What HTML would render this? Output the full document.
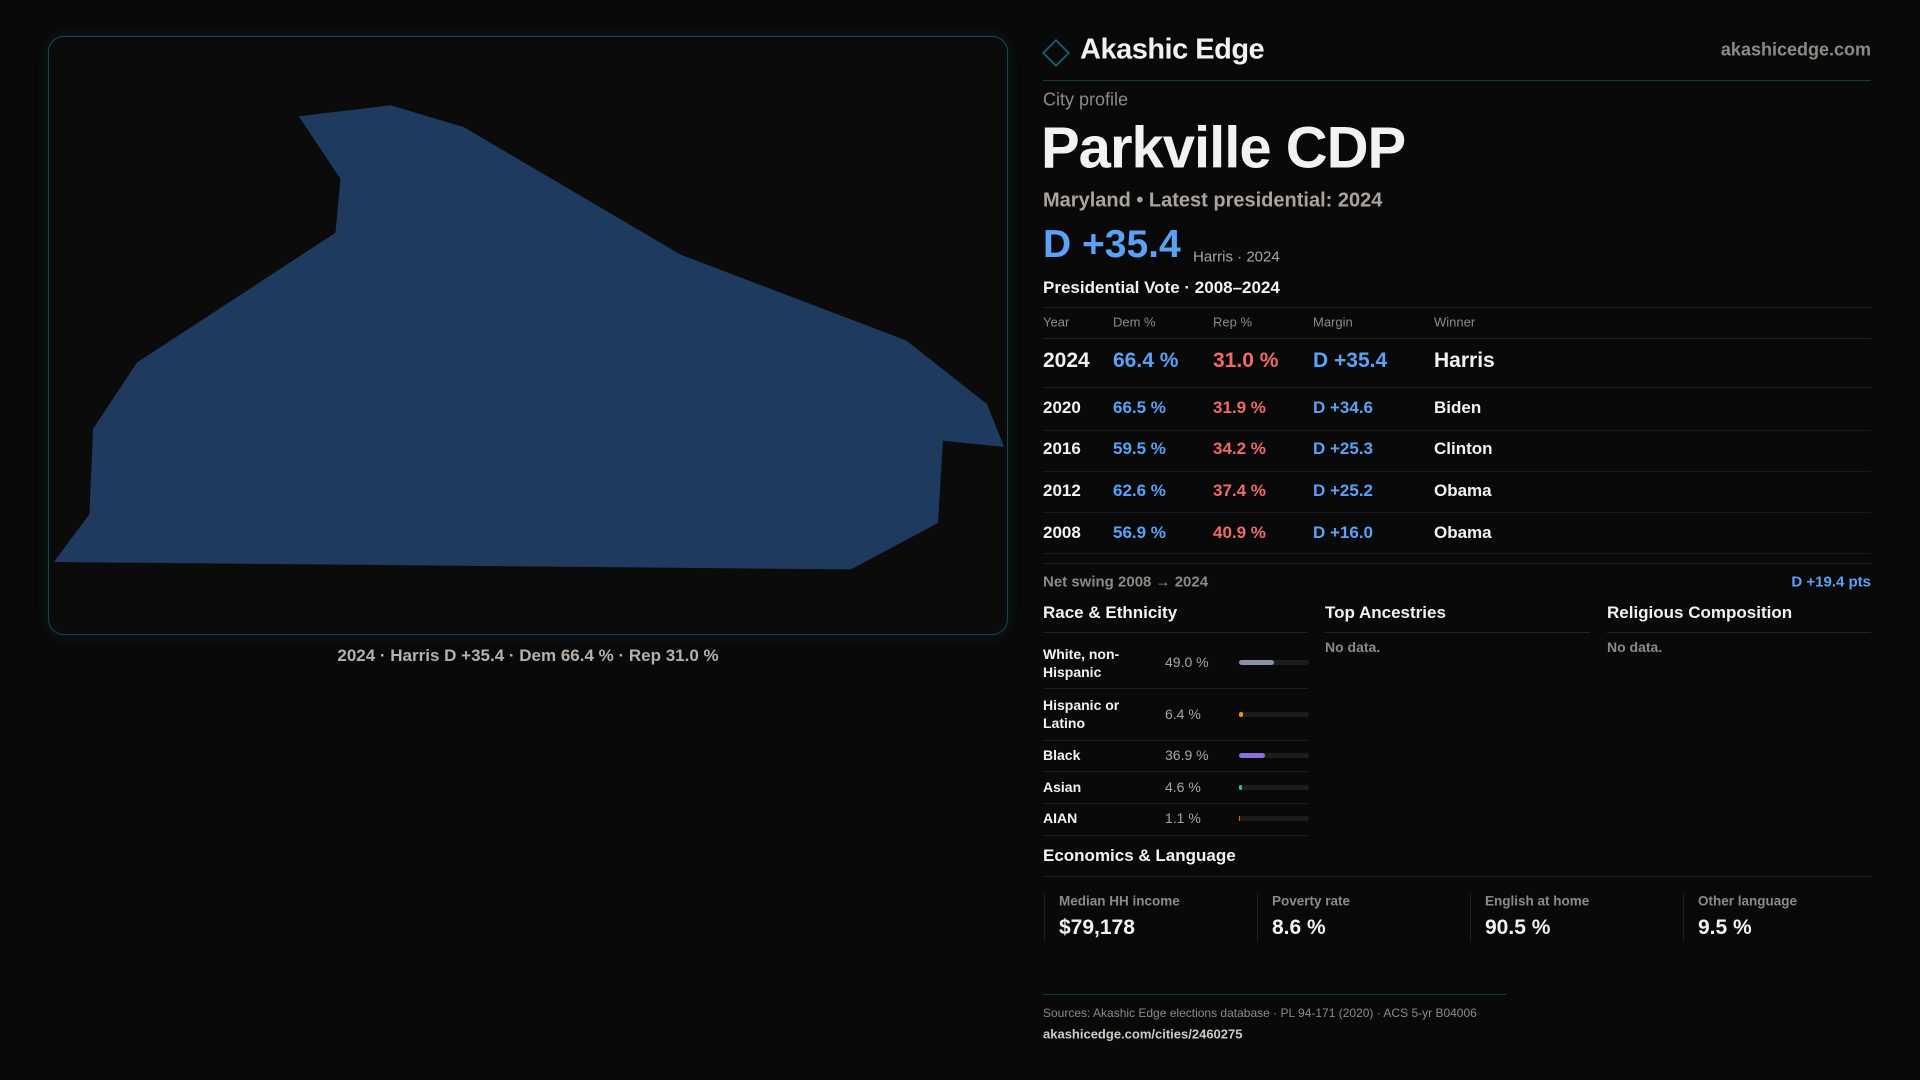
<!DOCTYPE html>
<html><head><meta charset="utf-8"><style>
*{margin:0;padding:0;box-sizing:border-box}
body{width:1920px;height:1080px;background:#0a0909;font-family:"Liberation Sans",sans-serif;color:#f2f2f2;position:relative;overflow:hidden}
.a{position:absolute;white-space:nowrap}
.g{color:#8e8984}
.b{color:#5aa2f5}
.r{color:#f06a6a}
.ln{position:absolute;height:1px;background:#222}
.vc{transform:translateY(-50%)}
</style></head><body>
<div class="a" style="left:48px;top:36px;width:960px;height:599px;border:1px solid #0f4a52;border-radius:16px;background:#0c0b0b;box-shadow:0 0 14px rgba(20,90,100,.25)"></div>
<svg class="a" style="left:0;top:0" width="1920" height="1080"><polygon fill="#1e3a5f" points="298.8,116.3 390.6,105.3 464.1,127.3 680.8,254.7 906.1,340.4 987,404.1 1004.1,446.9 942.9,440.8 938,522.9 851,569.4 53.9,562 89.4,514.3 93.1,428.6 137.1,362.5 335.5,232.7 340.4,178.8"/></svg>
<div class="a vc" style="left:0;width:1056px;text-align:center;top:656px;font-size:17px;color:#b5b0aa;font-weight:bold">2024 · Harris D +35.4 · Dem 66.4 % · Rep 31.0 %</div>

<div class="a" style="left:1046px;top:43px;width:20px;height:20px;border:2px solid #0e5c63;transform:rotate(45deg)"></div>
<div class="a vc" style="left:1080px;top:50px;font-size:29px;font-weight:bold;letter-spacing:-0.5px">Akashic Edge</div>
<div class="a vc g" style="right:49px;top:50px;font-size:18px;font-weight:bold">akashicedge.com</div>
<div class="ln" style="left:1043px;width:828px;top:80px;background:#143a3f"></div>
<div class="a vc g" style="left:1043px;top:100px;font-size:18px">City profile</div>
<div class="a vc" style="left:1041px;top:148px;font-size:58px;font-weight:bold;letter-spacing:-1px">Parkville CDP</div>
<div class="a vc" style="left:1043px;top:201px;font-size:20px;color:#aaa49e;font-weight:bold">Maryland • Latest presidential: 2024</div>
<div class="a vc b" style="left:1043px;top:245px;font-size:39px;font-weight:bold">D +35.4</div>
<div class="a vc" style="left:1193px;top:257px;font-size:15px;color:#aaa49e">Harris · 2024</div>
<div class="a vc" style="left:1043px;top:288px;font-size:17px;font-weight:bold">Presidential Vote · 2008–2024</div>
<div class="ln" style="left:1043px;width:828px;top:307px"></div>
<div class="a vc g" style="left:1043px;top:322px;font-size:13px">Year</div>
<div class="a vc g" style="left:1113px;top:322px;font-size:13px">Dem %</div>
<div class="a vc g" style="left:1213px;top:322px;font-size:13px">Rep %</div>
<div class="a vc g" style="left:1313px;top:322px;font-size:13px">Margin</div>
<div class="a vc g" style="left:1434px;top:322px;font-size:13px">Winner</div>
<div class="ln" style="left:1043px;width:828px;top:338px"></div>
<div style="font-size:21px;font-weight:bold">
<div class="a vc" style="left:1043px;top:361px">2024</div><div class="a vc b" style="left:1113px;top:361px">66.4 %</div><div class="a vc r" style="left:1213px;top:361px">31.0 %</div><div class="a vc b" style="left:1313px;top:361px">D +35.4</div><div class="a vc" style="left:1434px;top:361px">Harris</div></div>
<div class="ln" style="left:1043px;width:828px;top:387px"></div>
<div style="font-size:17px;font-weight:bold">
<div class="a vc" style="left:1043px;top:408px">2020</div><div class="a vc b" style="left:1113px;top:408px">66.5 %</div><div class="a vc r" style="left:1213px;top:408px">31.9 %</div><div class="a vc b" style="left:1313px;top:408px">D +34.6</div><div class="a vc" style="left:1434px;top:408px">Biden</div>
<div class="a vc" style="left:1043px;top:449px">2016</div><div class="a vc b" style="left:1113px;top:449px">59.5 %</div><div class="a vc r" style="left:1213px;top:449px">34.2 %</div><div class="a vc b" style="left:1313px;top:449px">D +25.3</div><div class="a vc" style="left:1434px;top:449px">Clinton</div>
<div class="a vc" style="left:1043px;top:491px">2012</div><div class="a vc b" style="left:1113px;top:491px">62.6 %</div><div class="a vc r" style="left:1213px;top:491px">37.4 %</div><div class="a vc b" style="left:1313px;top:491px">D +25.2</div><div class="a vc" style="left:1434px;top:491px">Obama</div>
<div class="a vc" style="left:1043px;top:533px">2008</div><div class="a vc b" style="left:1113px;top:533px">56.9 %</div><div class="a vc r" style="left:1213px;top:533px">40.9 %</div><div class="a vc b" style="left:1313px;top:533px">D +16.0</div><div class="a vc" style="left:1434px;top:533px">Obama</div></div>
<div class="ln" style="left:1043px;width:828px;top:430px;background:#1a1a1a"></div>
<div class="ln" style="left:1043px;width:828px;top:471px;background:#1a1a1a"></div>
<div class="ln" style="left:1043px;width:828px;top:512px;background:#1a1a1a"></div>
<div class="ln" style="left:1043px;width:828px;top:553px;background:#1a1a1a"></div>
<div class="ln" style="left:1043px;width:828px;top:563px"></div>
<div class="a vc g" style="left:1043px;top:582px;font-size:15px;font-weight:bold">Net swing 2008 → 2024</div>
<div class="a vc b" style="right:49px;top:582px;font-size:15px;font-weight:bold">D +19.4 pts</div>

<div class="a vc" style="left:1043px;top:613px;font-size:17px;font-weight:bold">Race &amp; Ethnicity</div>
<div class="a vc" style="left:1325px;top:613px;font-size:17px;font-weight:bold">Top Ancestries</div>
<div class="a vc" style="left:1607px;top:613px;font-size:17px;font-weight:bold">Religious Composition</div>
<div class="ln" style="left:1043px;width:265px;top:632px"></div>
<div class="ln" style="left:1325px;width:265px;top:632px"></div>
<div class="ln" style="left:1607px;width:264px;top:632px"></div>
<div class="a vc g" style="left:1325px;top:647px;font-size:14px;font-weight:bold">No data.</div>
<div class="a vc g" style="left:1607px;top:647px;font-size:14px;font-weight:bold">No data.</div>

<div style="font-size:14px;font-weight:bold">
<div class="a vc" style="left:1043px;top:663px;line-height:18px">White, non-<br>Hispanic</div>
<div class="a vc" style="left:1043px;top:714px;line-height:18px">Hispanic or<br>Latino</div>
<div class="a vc" style="left:1043px;top:755px">Black</div>
<div class="a vc" style="left:1043px;top:787px">Asian</div>
<div class="a vc" style="left:1043px;top:818px">AIAN</div>
</div>
<div style="font-size:14px;color:#aaa49e">
<div class="a vc" style="left:1165px;top:662px">49.0 %</div>
<div class="a vc" style="left:1165px;top:714px">6.4 %</div>
<div class="a vc" style="left:1165px;top:755px">36.9 %</div>
<div class="a vc" style="left:1165px;top:787px">4.6 %</div>
<div class="a vc" style="left:1165px;top:818px">1.1 %</div>
</div>
<div class="a" style="left:1239px;top:660px;width:70px;height:5px;border-radius:3px;background:#1c1c1c"><div style="width:35px;height:5px;border-radius:3px;background:#8a93a5"></div></div>
<div class="a" style="left:1239px;top:712px;width:70px;height:5px;border-radius:3px;background:#1c1c1c"><div style="width:4px;height:5px;border-radius:3px;background:#e3980e"></div></div>
<div class="a" style="left:1239px;top:753px;width:70px;height:5px;border-radius:3px;background:#1c1c1c"><div style="width:26px;height:5px;border-radius:3px;background:#8d6fe0"></div></div>
<div class="a" style="left:1239px;top:785px;width:70px;height:5px;border-radius:3px;background:#1c1c1c"><div style="width:3px;height:5px;border-radius:3px;background:#2ec08e"></div></div>
<div class="a" style="left:1239px;top:816px;width:70px;height:5px;border-radius:3px;background:#1c1c1c"><div style="width:1px;height:5px;background:#d06a10"></div></div>
<div class="ln" style="left:1043px;width:265px;top:688px;background:#1c1c1c"></div>
<div class="ln" style="left:1043px;width:265px;top:740px;background:#1c1c1c"></div>
<div class="ln" style="left:1043px;width:265px;top:771px;background:#1c1c1c"></div>
<div class="ln" style="left:1043px;width:265px;top:803px;background:#1c1c1c"></div>
<div class="ln" style="left:1043px;width:265px;top:835px;background:#1c1c1c"></div>

<div class="a vc" style="left:1043px;top:856px;font-size:17px;font-weight:bold">Economics &amp; Language</div>
<div class="ln" style="left:1043px;width:828px;top:876px"></div>
<div class="a" style="left:1044px;top:893px;width:1px;height:49px;background:#1e1e1e"></div>
<div class="a" style="left:1257px;top:893px;width:1px;height:49px;background:#1e1e1e"></div>
<div class="a" style="left:1470px;top:893px;width:1px;height:49px;background:#1e1e1e"></div>
<div class="a" style="left:1683px;top:893px;width:1px;height:49px;background:#1e1e1e"></div>
<div class="a vc g" style="left:1059px;top:901px;font-size:13.5px;font-weight:bold">Median HH income</div>
<div class="a vc g" style="left:1272px;top:901px;font-size:13.5px;font-weight:bold">Poverty rate</div>
<div class="a vc g" style="left:1485px;top:901px;font-size:13.5px;font-weight:bold">English at home</div>
<div class="a vc g" style="left:1698px;top:901px;font-size:13.5px;font-weight:bold">Other language</div>
<div class="a vc" style="left:1059px;top:928px;font-size:21px;font-weight:bold">$79,178</div>
<div class="a vc" style="left:1272px;top:928px;font-size:21px;font-weight:bold">8.6 %</div>
<div class="a vc" style="left:1485px;top:928px;font-size:21px;font-weight:bold">90.5 %</div>
<div class="a vc" style="left:1698px;top:928px;font-size:21px;font-weight:bold">9.5 %</div>

<div class="ln" style="left:1043px;width:463px;top:994px;background:#123a40"></div>
<div class="a vc g" style="left:1043px;top:1013px;font-size:12px">Sources: Akashic Edge elections database · PL 94-171 (2020) · ACS 5-yr B04006</div>
<div class="a vc" style="left:1043px;top:1034px;font-size:13px;font-weight:bold;color:#cfcac4">akashicedge.com/cities/2460275</div>
</body></html>
